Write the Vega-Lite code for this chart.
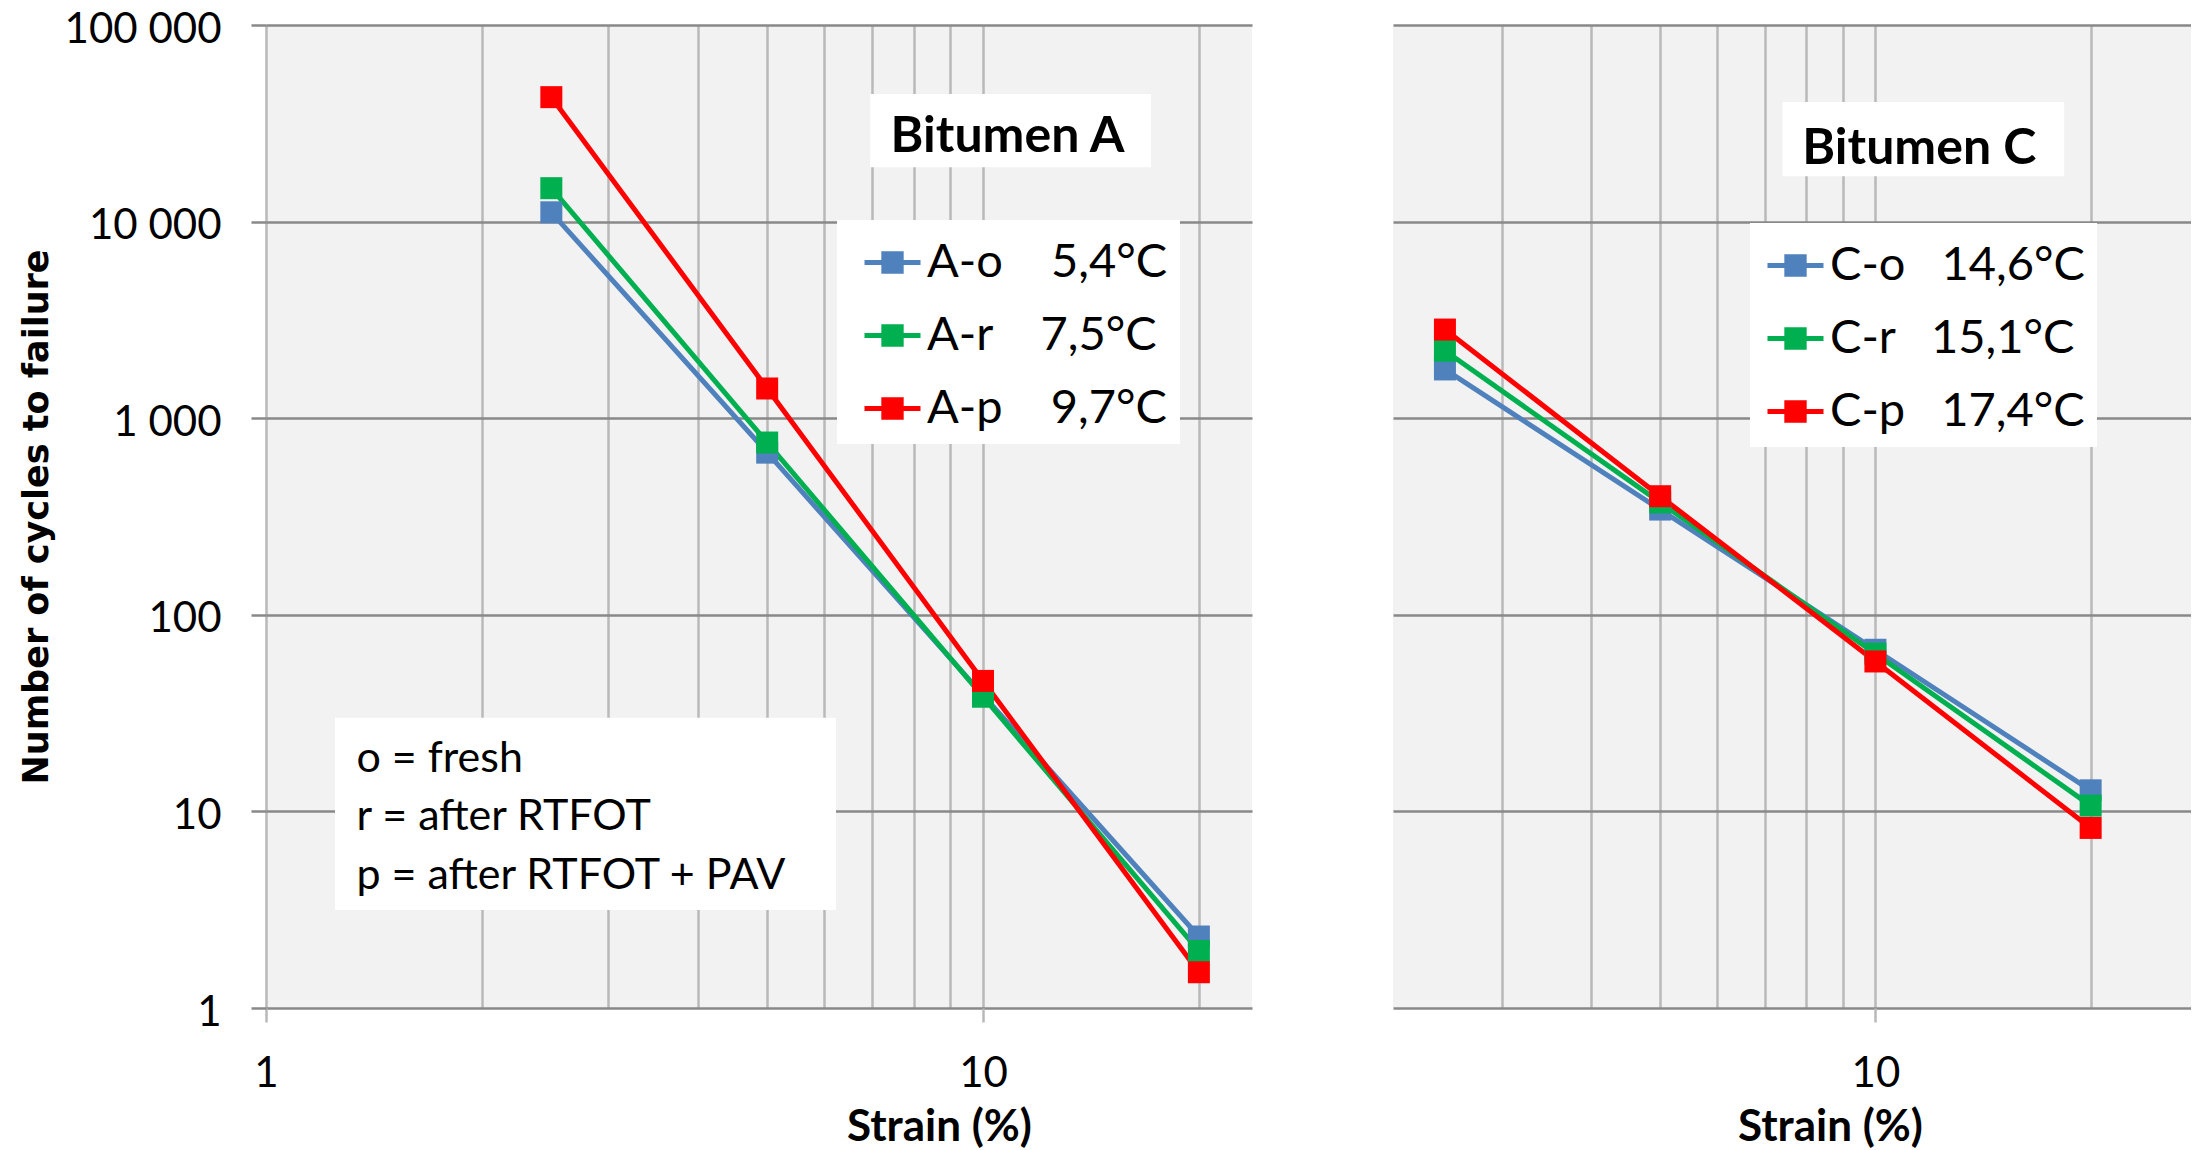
{
  "$schema": "https://vega.github.io/schema/vega-lite/v6.json",
  "autosize": {"type": "pad"},
  "padding": {"left": 19, "top": 8, "right": 0, "bottom": 0},
  "background": "white",
  "bounds": "flush",
  "spacing": 141,
  "config": {
    "view": {"stroke": null, "fill": "#f2f2f2"},
    "axis": {"labelColor": "black", "labelFont": "Lato", "labelFontSize": 42, "titleColor": "black", "domain": false},
    "legend": {"labelColor": "black", "labelFont": "Lato", "labelFontSize": 47, "labelLimit": 500}
  },
  "datasets": {
    "strain": [
      {"series": "A-o", "bitumen": "A", "strain": 2.5, "cycles": 11150},
      {"series": "A-o", "bitumen": "A", "strain": 5, "cycles": 668},
      {"series": "A-o", "bitumen": "A", "strain": 10, "cycles": 39},
      {"series": "A-o", "bitumen": "A", "strain": 20, "cycles": 2.31},
      {"series": "A-r", "bitumen": "A", "strain": 2.5, "cycles": 14790},
      {"series": "A-r", "bitumen": "A", "strain": 5, "cycles": 752},
      {"series": "A-r", "bitumen": "A", "strain": 10, "cycles": 38.3},
      {"series": "A-r", "bitumen": "A", "strain": 20, "cycles": 1.95},
      {"series": "A-p", "bitumen": "A", "strain": 2.5, "cycles": 42950},
      {"series": "A-p", "bitumen": "A", "strain": 5, "cycles": 1416},
      {"series": "A-p", "bitumen": "A", "strain": 10, "cycles": 46.1},
      {"series": "A-p", "bitumen": "A", "strain": 20, "cycles": 1.52},
      {"series": "C-o", "bitumen": "C", "strain": 2.5, "cycles": 1770},
      {"series": "C-o", "bitumen": "C", "strain": 5, "cycles": 343},
      {"series": "C-o", "bitumen": "C", "strain": 10, "cycles": 66.4},
      {"series": "C-o", "bitumen": "C", "strain": 20, "cycles": 12.8},
      {"series": "C-r", "bitumen": "C", "strain": 2.5, "cycles": 2203},
      {"series": "C-r", "bitumen": "C", "strain": 5, "cycles": 373},
      {"series": "C-r", "bitumen": "C", "strain": 10, "cycles": 63.4},
      {"series": "C-r", "bitumen": "C", "strain": 20, "cycles": 10.7},
      {"series": "C-p", "bitumen": "C", "strain": 2.5, "cycles": 2824},
      {"series": "C-p", "bitumen": "C", "strain": 5, "cycles": 401},
      {"series": "C-p", "bitumen": "C", "strain": 10, "cycles": 57.9},
      {"series": "C-p", "bitumen": "C", "strain": 20, "cycles": 8.24}
    ]
  },
  "resolve": {"scale": {"color": "shared", "x": "independent", "y": "independent"}, "legend": {"color": "independent"}},
  "hconcat": [
    {
      "width": 986,
      "height": 983,
      "layer": [
        {
          "data": {"values": [{}]},
          "mark": {"type": "rect", "fill": "white"},
          "encoding": {
            "x": {"datum": 6.96, "type": "quantitative"},
            "x2": {"datum": 17.15},
            "y": {"datum": 44540, "type": "quantitative"},
            "y2": {"datum": 18920}
          }
        },
        {
          "data": {"values": [{}]},
          "mark": {"type": "text", "text": "Bitumen A", "font": "Lato", "fontWeight": "bold", "fontSize": 50, "align": "center", "baseline": "alphabetic", "color": "black"},
          "encoding": {
            "x": {"datum": 10.82, "type": "quantitative"},
            "y": {"datum": 22560, "type": "quantitative"}
          }
        },
        {
          "data": {"values": [{}]},
          "mark": {"type": "rect", "fill": "white"},
          "encoding": {
            "x": {"datum": 1.248, "type": "quantitative"},
            "x2": {"datum": 6.237},
            "y": {"datum": 29.97, "type": "quantitative"},
            "y2": {"datum": 3.155}
          }
        },
        {
          "data": {"values": [{}]},
          "mark": {"type": "text", "text": ["o = fresh", "r = after RTFOT", "p = after RTFOT + PAV"], "lineHeight": 58.5, "font": "Lato", "fontSize": 43, "align": "left", "baseline": "alphabetic", "color": "black"},
          "encoding": {
            "x": {"datum": 1.337, "type": "quantitative"},
            "y": {"datum": 15.91, "type": "quantitative"}
          }
        },
        {
          "data": {"name": "strain"},
          "transform": [{"filter": "datum.bitumen == 'A'"}],
          "encoding": {
            "x": {
              "field": "strain", "type": "quantitative",
              "scale": {"type": "log", "domain": [1, 23.72], "nice": false},
              "axis": {
                "values": [1, 2, 3, 4, 5, 6, 7, 8, 9, 10, 20],
                "grid": true, "gridColor": "#b9b9b9", "gridWidth": 2.5,
                "tickSize": 14, "tickColor": "#b9b9b9", "tickWidth": 2.5,
                "tickOpacity": {"condition": {"test": "datum.value == 1 || datum.value == 10", "value": 1}, "value": 0},
                "labelExpr": "datum.value == 1 || datum.value == 10 ? format(datum.value, 'd') : ''",
                "labelFlush": false, "labelOverlap": false, "labelPadding": 31,
                "title": "Strain (%)", "titleFont": "Lato", "titleFontWeight": "bold", "titleFontSize": 44,
                "titleX": 673, "titleY": 132, "titleBaseline": "alphabetic", "titleAlign": "center"
              }
            },
            "y": {
              "field": "cycles", "type": "quantitative",
              "scale": {"type": "log", "domain": [1, 100000], "nice": false},
              "axis": {
                "values": [1, 10, 100, 1000, 10000, 100000],
                "grid": true, "gridColor": "#898989", "gridWidth": 2.5,
                "tickSize": 15, "tickColor": "#898989", "tickWidth": 2.5,
                "labelPadding": 30, "labelOverlap": false, "labelFlush": false, "labelOffset": 4,
                "labelExpr": "replace(format(datum.value, ','), regexp(',', 'g'), ' ')",
                "title": "Number of cycles to failure", "titleFont": "DejaVu Sans", "titleFontWeight": "bold", "titleFontSize": 35,
                "titleX": -219, "titleBaseline": "alphabetic", "titleAngle": 270, "titleAlign": "center"
              }
            },
            "color": {
              "field": "series", "type": "nominal",
              "scale": {"domain": ["A-o", "A-r", "A-p", "C-o", "C-r", "C-p"], "range": ["#4F81BD", "#00B050", "#FF0000", "#4F81BD", "#00B050", "#FF0000"]},
              "legend": {
                "orient": "none", "legendX": 571, "legendY": 195, "title": null,
                "values": ["A-o", "A-r", "A-p"],
                "labelExpr": "datum.label == 'A-o' ? 'A-o\u00a0\u00a0\u00a0\u00a05,4°C' : datum.label == 'A-r' ? 'A-r\u00a0\u00a0\u00a0\u00a07,5°C' : 'A-p\u00a0\u00a0\u00a0\u00a09,7°C'",
                "symbolType": "M-1,0H1M-0.31,-0.31H0.31V0.31H-0.31Z",
                "symbolSize": 3136, "symbolStrokeWidth": 5,
                "symbolOffset": 13, "labelOffset": 4, "rowPadding": 19, "padding": 12,
                "fillColor": "white",
                "encode": {"symbols": {"update": {"fill": {"scale": "color", "field": "value"}, "stroke": {"scale": "color", "field": "value"}}}}
              }
            }
          },
          "layer": [
            {"mark": {"type": "line", "strokeWidth": 5}},
            {"mark": {"type": "point", "shape": "square", "filled": true, "size": 484, "opacity": 1}}
          ]
        }
      ]
    },
    {
      "width": 798,
      "height": 983,
      "layer": [
        {
          "data": {"values": [{}]},
          "mark": {"type": "rect", "fill": "white"},
          "encoding": {
            "x": {"datum": 7.417, "type": "quantitative"},
            "x2": {"datum": 18.37},
            "y": {"datum": 40550, "type": "quantitative"},
            "y2": {"datum": 17030}
          }
        },
        {
          "data": {"values": [{}]},
          "mark": {"type": "text", "text": "Bitumen C", "font": "Lato", "fontWeight": "bold", "fontSize": 50, "align": "center", "baseline": "alphabetic", "color": "black"},
          "encoding": {
            "x": {"datum": 11.52, "type": "quantitative"},
            "y": {"datum": 19600, "type": "quantitative"}
          }
        },
        {
          "data": {"name": "strain"},
          "transform": [{"filter": "datum.bitumen == 'C'"}],
          "encoding": {
            "x": {
              "field": "strain", "type": "quantitative",
              "scale": {"type": "log", "domain": [2.115, 27.63], "nice": false},
              "axis": {
                "values": [3, 4, 5, 6, 7, 8, 9, 10, 20],
                "grid": true, "gridColor": "#b9b9b9", "gridWidth": 2.5,
                "tickSize": 14, "tickColor": "#b9b9b9", "tickWidth": 2.5,
                "tickOpacity": {"condition": {"test": "datum.value == 10", "value": 1}, "value": 0},
                "labelExpr": "datum.value == 10 ? format(datum.value, 'd') : ''",
                "labelFlush": false, "labelOverlap": false, "labelPadding": 31,
                "title": "Strain (%)", "titleFont": "Lato", "titleFontWeight": "bold", "titleFontSize": 44,
                "titleX": 437, "titleY": 132, "titleBaseline": "alphabetic", "titleAlign": "center"
              }
            },
            "y": {
              "field": "cycles", "type": "quantitative",
              "scale": {"type": "log", "domain": [1, 100000], "nice": false},
              "axis": {
                "values": [1, 10, 100, 1000, 10000, 100000],
                "grid": true, "gridColor": "#898989", "gridWidth": 2.5,
                "ticks": false, "labels": false, "title": null, "minExtent": 0
              }
            },
            "color": {
              "field": "series", "type": "nominal",
              "scale": {"domain": ["A-o", "A-r", "A-p", "C-o", "C-r", "C-p"], "range": ["#4F81BD", "#00B050", "#FF0000", "#4F81BD", "#00B050", "#FF0000"]},
              "legend": {
                "orient": "none", "legendX": 357, "legendY": 198, "title": null,
                "values": ["C-o", "C-r", "C-p"],
                "labelExpr": "datum.label == 'C-o' ? 'C-o\u00a0\u00a0\u00a014,6°C' : datum.label == 'C-r' ? 'C-r\u00a0\u00a0\u00a015,1°C' : 'C-p\u00a0\u00a0\u00a017,4°C'",
                "symbolType": "M-1,0H1M-0.31,-0.31H0.31V0.31H-0.31Z",
                "symbolSize": 3136, "symbolStrokeWidth": 5,
                "symbolOffset": 3, "labelOffset": 4, "rowPadding": 19, "padding": 12,
                "fillColor": "white",
                "encode": {"symbols": {"update": {"fill": {"scale": "color", "field": "value"}, "stroke": {"scale": "color", "field": "value"}}}}
              }
            }
          },
          "layer": [
            {"mark": {"type": "line", "strokeWidth": 5}},
            {"mark": {"type": "point", "shape": "square", "filled": true, "size": 484, "opacity": 1}}
          ]
        }
      ]
    }
  ]
}
